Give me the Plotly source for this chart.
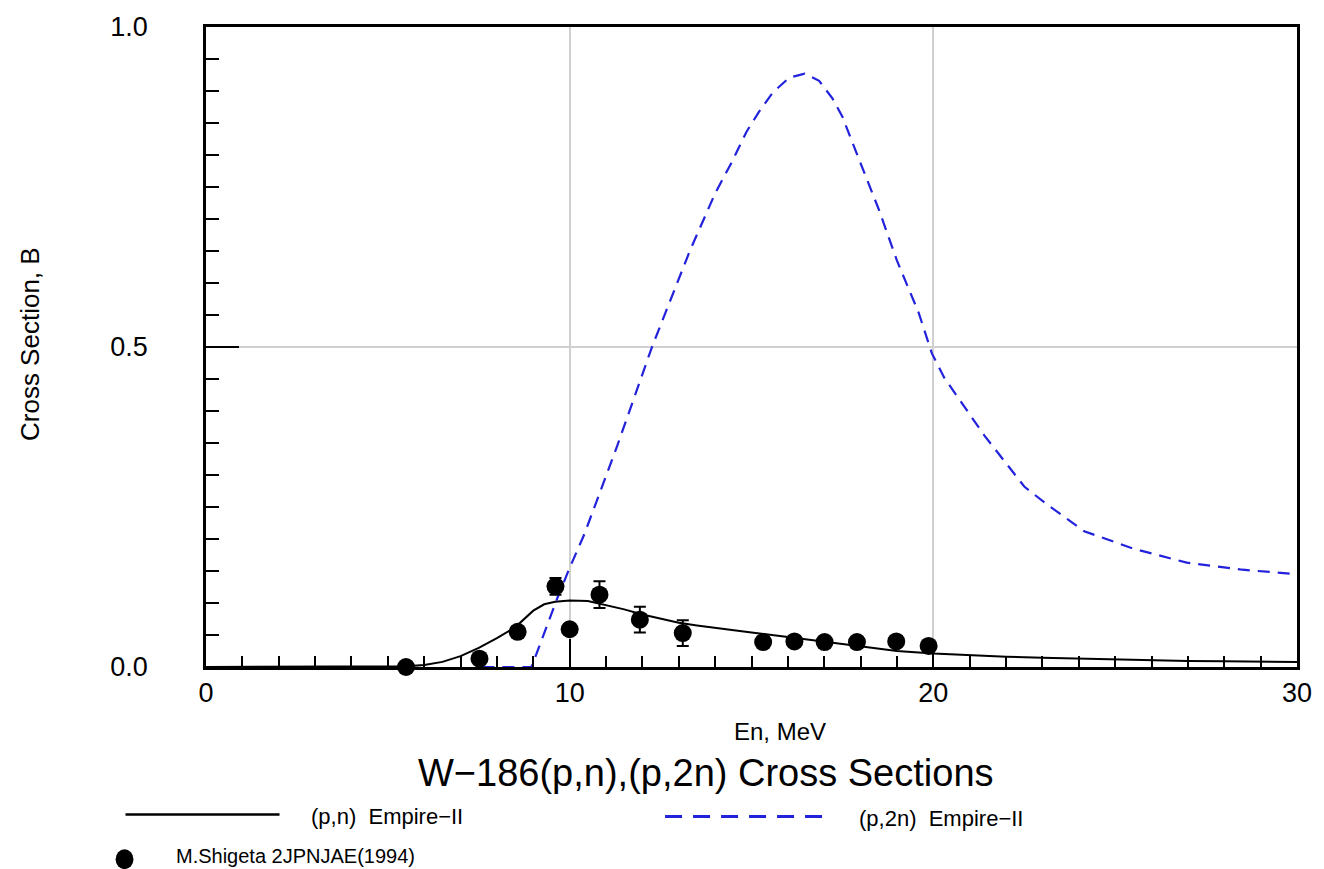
import plotly.graph_objects as go

# Empire-II (p,n) excitation function
pn_energy = [0, 4, 5, 5.5, 6, 6.5, 7, 7.5, 8, 8.5, 9, 9.3, 9.6, 10, 10.5, 11, 11.5,
             12, 12.5, 13, 13.5, 14, 15, 16, 17, 18, 19, 20, 21, 22, 23, 24, 25,
             26, 27, 28, 29, 30]
pn_xs = [0, 0, 0.0005, 0.001, 0.003, 0.008, 0.017, 0.030, 0.045, 0.062, 0.088,
         0.098, 0.102, 0.104, 0.103, 0.097, 0.090, 0.082, 0.075, 0.069, 0.065,
         0.061, 0.054, 0.047, 0.040, 0.032, 0.025, 0.021, 0.018, 0.016, 0.0145,
         0.013, 0.012, 0.0105, 0.0095, 0.0088, 0.008, 0.0077]

# Empire-II (p,2n) excitation function (starts at threshold)
p2n_energy = [7.6, 8.95, 9.67, 10.0, 10.4, 11.31, 12.27, 13.31, 14.0, 14.45,
              14.86, 15.2, 15.59, 16.04, 16.46, 16.86, 17.23, 17.5, 17.73, 17.95,
              18.5, 19.0, 19.6, 19.96, 20.3, 21.4, 22.5, 23.1, 24.15, 25.5, 26.97,
              28.5, 30.0]
p2n_xs = [0, 0, 0.109, 0.155, 0.207, 0.346, 0.501, 0.651, 0.740, 0.788,
          0.836, 0.867, 0.898, 0.921, 0.927, 0.916, 0.888, 0.860, 0.826, 0.795,
          0.715, 0.635, 0.553, 0.490, 0.452, 0.362, 0.282, 0.255, 0.212, 0.185,
          0.163, 0.152, 0.145]

# M.Shigeta 2JPNJAE(1994) measurements
exp_energy = [5.5, 7.52, 8.57, 9.61, 10.0, 10.82, 11.93, 13.11, 15.32, 16.18,
              17.01, 17.90, 18.98, 19.87]
exp_xs = [0.0, 0.013, 0.055, 0.126, 0.059, 0.113, 0.074, 0.053, 0.039, 0.040,
          0.039, 0.039, 0.040, 0.033]
exp_err = [0.002, 0.003, 0.004, 0.013, 0.004, 0.021, 0.020, 0.020, 0.007, 0.004,
           0.004, 0.004, 0.004, 0.004]

x_ticks = [0, 10, 20, 30]
y_ticks = [0.0, 0.5, 1.0]
y_tick_text = ["0.0", "0.5", "1.0"]

FONT = "Liberation Sans, Arial, Helvetica, sans-serif"
BLUE = "#2222dd"

fig = go.Figure()

fig.add_trace(go.Scatter(
    x=pn_energy, y=pn_xs, mode="lines",
    line=dict(color="black", width=2), showlegend=False))

fig.add_trace(go.Scatter(
    x=p2n_energy, y=p2n_xs, mode="lines",
    line=dict(color=BLUE, width=2.2, dash="12px,8px"), showlegend=False))

fig.add_trace(go.Scatter(
    x=exp_energy, y=exp_xs, mode="markers",
    marker=dict(color="black", size=18, symbol="circle"),
    error_y=dict(type="data", array=exp_err, color="black", thickness=2, width=6),
    showlegend=False, cliponaxis=False))

fig.update_xaxes(
    range=[0, 30], tickvals=x_ticks, ticktext=[str(v) for v in x_ticks],
    ticks="inside", ticklen=28, tickwidth=2, tickcolor="black",
    minor=dict(ticks="inside", ticklen=11, tickwidth=2, tickcolor="black", dtick=1,
               showgrid=False),
    showline=True, linewidth=2.5, linecolor="black", mirror=True,
    showgrid=True, gridcolor="#d0d0d0", gridwidth=1.5, zeroline=False,
    tickfont=dict(family=FONT, size=27, color="black"),
    ticklabelstandoff=0,
)
fig.update_yaxes(
    range=[0, 1.0], tickvals=y_ticks, ticktext=y_tick_text,
    ticks="inside", ticklen=33, tickwidth=2, tickcolor="black",
    minor=dict(ticks="inside", ticklen=13, tickwidth=2, tickcolor="black", dtick=0.05,
               showgrid=False),
    showline=True, linewidth=2.5, linecolor="black", mirror=True,
    showgrid=True, gridcolor="#d0d0d0", gridwidth=1.5, zeroline=False,
    tickfont=dict(family=FONT, size=27, color="black"),
    ticklabelstandoff=50,
)

def label(text, dx, dy, size, anchor="center", angle=0):
    """Text placed by pixel offset from the bottom-left corner of the plot area."""
    return dict(text=text, x=0, xref="paper", y=0, yref="paper",
                xshift=dx, yshift=dy, xanchor=anchor, yanchor="middle",
                showarrow=False, textangle=angle,
                font=dict(family=FONT, size=size, color="black"))

annotations = [
    label("Cross Section, B", -176, 323, 26, angle=-90),
    label("En, MeV", 574, -64, 24),
    label("W\u2212186(p,n),(p,2n) Cross Sections", 500, -106, 38),
    label("(p,n)  Empire\u2212II", 103, -149, 22, anchor="left"),
    label("(p,2n)  Empire\u2212II", 651, -151, 22, anchor="left"),
    label("M.Shigeta 2JPNJAE(1994)", -32, -189, 20, anchor="left"),
]

# legend keys drawn below the plot area
shapes = [
    dict(type="line", xref="paper", yref="paper", x0=-81 / 1098, x1=74 / 1098,
         y0=-149 / 646, y1=-149 / 646, line=dict(color="black", width=2.5)),
    dict(type="line", xref="paper", yref="paper", x0=462 / 1098, x1=622 / 1098,
         y0=-151 / 646, y1=-151 / 646, line=dict(color=BLUE, width=3, dash="17px,11px")),
    dict(type="circle", xref="paper", yref="paper", x0=-91 / 1098, x1=-73 / 1098,
         y0=-204 / 646, y1=-184 / 646, fillcolor="black", line=dict(color="black", width=0)),
]

fig.update_layout(
    width=1324, height=869,
    margin=dict(l=206, r=20, t=21, b=202),
    plot_bgcolor="white", paper_bgcolor="white",
    annotations=annotations, shapes=shapes,
    showlegend=False,
)

fig.write_html("out.html")
